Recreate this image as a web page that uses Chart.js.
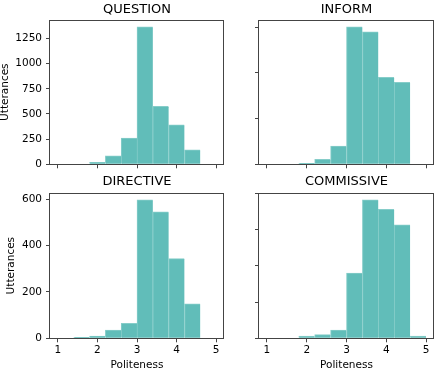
<!DOCTYPE html>
<html>
<head>
<meta charset="utf-8">
<script src="https://cdn.jsdelivr.net/npm/chart.js@4"></script>
<style>
  html, body { margin: 0; padding: 0; background: #fff; }
  #wrap { position: relative; width: 436px; height: 372px; overflow: hidden; }
  .cell { position: absolute; }
</style>
</head>
<body>
<div id="wrap">
  <div class="cell" style="left:0;top:0;width:230px;height:180px"><canvas id="c-question"></canvas></div>
  <div class="cell" style="left:230px;top:0;width:206px;height:180px"><canvas id="c-inform"></canvas></div>
  <div class="cell" style="left:0;top:172px;width:230px;height:200px"><canvas id="c-directive"></canvas></div>
  <div class="cell" style="left:230px;top:172px;width:206px;height:200px"><canvas id="c-commissive"></canvas></div>
</div>
<script>
// histogram bins (politeness score), 10 bins from 1 to 5
const binEdges = [1, 1.4, 1.8, 2.2, 2.6, 3.0, 3.4, 3.8, 4.2, 4.6, 5.0];
const politenessTicks = [1, 2, 3, 4, 5];

// utterance counts per bin
const question   = [0, 0, 20, 83, 260, 1366, 575, 392, 143, 0];
const inform     = [0, 0, 11, 55, 200, 1502, 1447, 950, 895, 0];
const directive  = [0, 4, 10, 36, 65, 597, 546, 344, 149, 0];
const commissive = [0, 0, 6, 10, 23, 180, 382, 356, 313, 6];

const questionTicks   = [0, 250, 500, 750, 1000, 1250];
const informTicks     = [0, 500, 1000, 1500];
const directiveTicks  = [0, 200, 400, 600];
const commissiveTicks = [0, 100, 200, 300, 400];

const FONT = 'DejaVu Sans';
const SPINE = '#444';
const FILL = 'rgb(97, 189, 185)';
const EDGE = '#86cdc9';

// draw the full box around the plot area (matplotlib spines)
const frame = {
    id: 'frame',
    afterDatasetsDraw(chart) {
        const a = chart.chartArea;
        const c = chart.ctx;
        c.save();
        c.strokeStyle = SPINE;
        c.lineWidth = 1;
        const l = Math.round(a.left) - 0.5, t = Math.round(a.top) + 0.5;
        const r = Math.round(a.right) - 0.5, b = Math.round(a.bottom) + 0.5;
        c.strokeRect(l, t, r - l, b - t);
        c.restore();
    }
};

function makeHist(id, title, counts, yTicks, opts) {
    const centers = binEdges.slice(0, -1).map((e, i) => (e + binEdges[i + 1]) / 2);
    const ymax = Math.max(...counts) * 1.05;
    new Chart(document.getElementById(id), {
        type: 'bar',
        data: {
            datasets: [{
                data: centers.map((x, i) => ({ x: x, y: counts[i] })),
                backgroundColor: FILL,
                borderColor: EDGE,
                borderWidth: { top: 1, left: 1, right: 0, bottom: 0 },
                borderSkipped: false,
                barPercentage: 1,
                categoryPercentage: 1
            }]
        },
        options: {
            responsive: true,
            maintainAspectRatio: false,
            animation: false,
            layout: { padding: { left: 0, right: opts.right, top: 0, bottom: 0 } },
            plugins: {
                legend: { display: false },
                tooltip: { enabled: false },
                title: {
                    display: true,
                    text: title,
                    fullSize: false,
                    color: '#000',
                    font: { family: FONT, size: 13, weight: 'normal', lineHeight: 1.2 },
                    padding: { top: 2.2, bottom: opts.titleBottom }
                }
            },
            scales: {
                x: {
                    type: 'linear',
                    offset: false,
                    min: 0.8,
                    max: 5.2,
                    afterBuildTicks: ax => { ax.ticks = politenessTicks.map(v => ({ value: v })); },
                    afterFit: ax => { ax.height = opts.xHeight; },
                    grid: { offset: false, drawOnChartArea: false, drawTicks: true, tickLength: 4, tickColor: SPINE },
                    border: { display: false },
                    ticks: {
                        display: opts.xLabels,
                        padding: 2,
                        color: '#000',
                        maxRotation: 0,
                        font: { family: FONT, size: 10.5 },
                        callback: v => String(v)
                    },
                    title: {
                        display: opts.xLabels,
                        text: 'Politeness',
                        color: '#000',
                        font: { family: FONT, size: 10.5 },
                        padding: { top: 0, bottom: 0 }
                    }
                },
                y: {
                    min: 0,
                    max: ymax,
                    afterBuildTicks: ax => { ax.ticks = yTicks.map(v => ({ value: v })); },
                    afterFit: ax => { ax.width = opts.yWidth; },
                    grid: { drawOnChartArea: false, drawTicks: true, tickLength: 4, tickColor: SPINE },
                    border: { display: false },
                    ticks: {
                        display: opts.yLabels,
                        padding: 4,
                        color: '#000',
                        font: { family: FONT, size: 10.5 },
                        callback: v => String(v)
                    },
                    title: {
                        display: opts.yLabels,
                        text: 'Utterances',
                        color: '#000',
                        font: { family: FONT, size: 10.5 },
                        padding: { top: opts.yTitlePad, bottom: 0 }
                    }
                }
            }
        },
        plugins: [frame]
    });
}

makeHist('c-question', 'QUESTION', question, questionTicks,
    { right: 6, yWidth: 50, xHeight: 15.7, titleBottom: 2.2, xLabels: false, yLabels: true, yTitlePad: -0.6 });
makeHist('c-inform', 'INFORM', inform, informTicks,
    { right: 2, yWidth: 29, xHeight: 15.7, titleBottom: 2.2, xLabels: false, yLabels: false, yTitlePad: 0 });
makeHist('c-directive', 'DIRECTIVE', directive, directiveTicks,
    { right: 6, yWidth: 50, xHeight: 33.7, titleBottom: 3.2, xLabels: true, yLabels: true, yTitlePad: 5.2 });
makeHist('c-commissive', 'COMMISSIVE', commissive, commissiveTicks,
    { right: 2, yWidth: 29, xHeight: 33.7, titleBottom: 3.2, xLabels: true, yLabels: false, yTitlePad: 0 });
</script>
</body>
</html>
